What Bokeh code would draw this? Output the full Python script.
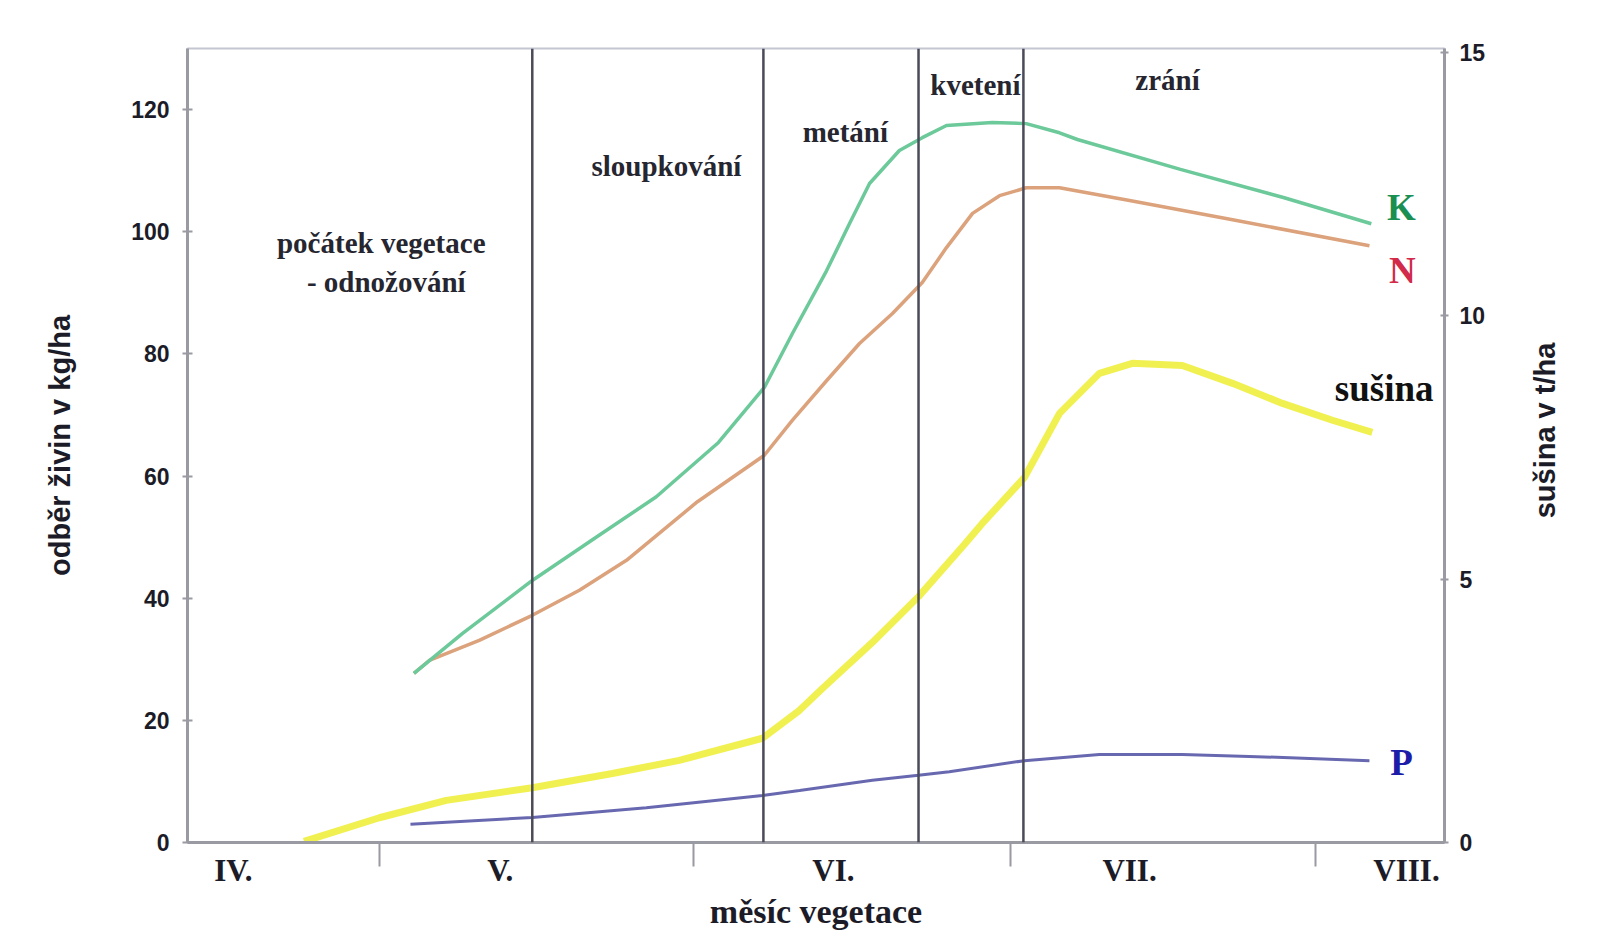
import math
from bokeh.plotting import figure
from bokeh.layouts import row
from bokeh.models import (Range1d, LinearAxis, FixedTicker, ColumnDataSource, Span)
from bokeh.core.properties import value
from bokeh.embed import file_html
from bokeh.resources import INLINE

# ---------------- data ----------------
# x in "month" units (tick marks at month boundaries)
month_labels = ["IV.", "V.", "VI.", "VII.", "VIII."]
month_label_pos = [0.535, 1.385, 2.446, 3.389, 4.271]
month_bounds = [1.0, 2.0, 3.01, 3.98]

left_ticks = [0, 20, 40, 60, 80, 100, 120]
right_ticks = [0, 5, 10, 15]

phase_lines = [1.487, 2.223, 2.717, 3.051]
phase_text = ["počátek vegetace", "- odnožování", "sloupkování", "metání", "kvetení", "zrání"]
phase_x = [1.006, 1.022, 1.914, 2.484, 2.898, 3.51]
phase_y = [98.1, 91.7, 110.8, 116.4, 124.1, 124.8]

k_x = [1.11, 1.264, 1.487, 1.688, 1.882, 2.08, 2.226, 2.315, 2.424, 2.497, 2.561,
       2.656, 2.729, 2.806, 2.952, 3.06, 3.166, 3.223, 3.551, 3.879, 4.159]
k_y = [27.7, 34.2, 42.9, 49.9, 56.6, 65.5, 74.5, 83.3, 93.6, 101.3, 107.9,
       113.3, 115.4, 117.4, 117.9, 117.7, 116.2, 115.1, 110.2, 105.6, 101.3]

n_x = [1.11, 1.159, 1.318, 1.487, 1.637, 1.787, 2.013, 2.226, 2.315, 2.424, 2.529,
       2.634, 2.729, 2.806, 2.889, 2.975, 3.06, 3.166, 3.389, 3.713, 4.153]
n_y = [27.7, 29.8, 33.1, 37.2, 41.3, 46.2, 55.8, 63.4, 69.1, 75.6, 81.7,
       86.6, 91.7, 97.4, 103.0, 105.9, 107.2, 107.2, 105.1, 102.0, 97.7]

p_x = [1.099, 1.487, 1.85, 2.22, 2.338, 2.57, 2.717, 2.815, 3.054, 3.293, 3.557, 3.77, 4.153]
p_y = [3.0, 4.1, 5.7, 7.7, 8.5, 10.2, 11.0, 11.6, 13.4, 14.4, 14.4, 14.1, 13.4]

# dry matter (sušina), t/ha, right axis
s_x = [0.76, 1.0, 1.213, 1.487, 1.742, 1.955, 2.22, 2.338, 2.41, 2.57, 2.717, 2.863,
       2.92, 3.054, 3.166, 3.293, 3.398, 3.557, 3.717, 3.876, 4.035, 4.162]
s_y = [0.02, 0.47, 0.80, 1.04, 1.31, 1.56, 1.98, 2.51, 2.92, 3.80, 4.67, 5.66,
       6.06, 6.93, 8.15, 8.91, 9.10, 9.06, 8.72, 8.34, 8.02, 7.79]

curve_labels = ["K", "N", "sušina", "P"]
curve_label_x = [4.255, 4.258, 4.2, 4.255]
curve_label_y = [104.0, 93.6, 74.3, 13.1]
curve_label_colors = ["#1a8f52", "#d12a4a", "#111111", "#1c1ca8"]

left_title = "odběr živin v kg/ha"
right_title = "sušina v t/ha"
x_title = "měsíc vegetace"

# ---------------- main figure ----------------
p = figure(frame_width=1257, frame_height=794, output_backend="svg",
           toolbar_location=None,
           x_range=Range1d(0.389, 4.392), y_range=Range1d(0, 130),
           min_border_left=187, min_border_right=60, min_border_top=48,
           min_border_bottom=70)
p.background_fill_color = "white"
p.border_fill_color = "white"
p.outline_line_color = "#c4c6d2"
p.outline_line_width = 2
p.xgrid.visible = False
p.ygrid.visible = False

sans = "'Liberation Sans', Arial, sans-serif"
serif = "'Liberation Serif', 'Times New Roman', serif"
axis_col = "#9a9aa2"
text_col = "#1c1c28"

# x axis
xa = p.xaxis[0]
xa.ticker = FixedTicker(ticks=month_label_pos, minor_ticks=month_bounds)
xa.major_label_overrides = {pos: lab for pos, lab in zip(month_label_pos, month_labels)}
xa.major_tick_line_color = None
xa.major_tick_out = 0
xa.major_tick_in = 0
xa.minor_tick_out = 24
xa.minor_tick_in = 0
xa.minor_tick_line_color = axis_col
xa.minor_tick_line_width = 2
xa.axis_line_color = axis_col
xa.axis_line_width = 3
xa.major_label_standoff = -14
xa.major_label_text_font = serif
xa.major_label_text_font_style = "bold"
xa.major_label_text_font_size = "31px"
xa.major_label_text_color = text_col
xa.axis_label = x_title
xa.axis_label_text_font = serif
xa.axis_label_text_font_style = "bold"
xa.axis_label_text_font_size = "34px"
xa.axis_label_text_color = text_col
xa.axis_label_standoff = 2

# left axis
ya = p.yaxis[0]
ya.ticker = FixedTicker(ticks=left_ticks)
ya.minor_tick_line_color = None
ya.major_tick_in = 5
ya.major_tick_out = 5
ya.major_tick_line_color = axis_col
ya.major_tick_line_width = 2
ya.axis_line_color = axis_col
ya.axis_line_width = 3
ya.major_label_standoff = 13
ya.major_label_text_font = sans
ya.major_label_text_font_style = "bold"
ya.major_label_text_font_size = "23px"
ya.major_label_text_color = text_col
ya.axis_label = left_title
ya.axis_label_text_font = sans
ya.axis_label_text_font_style = "bold"
ya.axis_label_text_font_size = "29px"
ya.axis_label_text_color = text_col
ya.axis_label_standoff = 52

# right axis (ticks and numbers)
p.extra_y_ranges = {"dm": Range1d(0, 15.08)}
ra = LinearAxis(y_range_name="dm", ticker=FixedTicker(ticks=right_ticks))
ra.minor_tick_line_color = None
ra.major_tick_in = 4
ra.major_tick_out = 4
ra.major_tick_line_color = axis_col
ra.major_tick_line_width = 2
ra.axis_line_color = axis_col
ra.axis_line_width = 3
ra.major_label_standoff = 11
ra.major_label_text_font = sans
ra.major_label_text_font_style = "bold"
ra.major_label_text_font_size = "23px"
ra.major_label_text_color = text_col
p.add_layout(ra, "right")

# phase separator lines
for xv in phase_lines:
    p.add_layout(Span(location=xv, dimension="height", line_color="#4a4a58",
                      line_width=2.5))

# curves
p.line(s_x, s_y, y_range_name="dm", line_color="#efef48", line_width=7, line_alpha=0.95)
p.line(p_x, p_y, line_color="#6868b0", line_width=3)
p.line(n_x, n_y, line_color="#dba27c", line_width=3.5)
p.line(k_x, k_y, line_color="#6cc99a", line_width=3.5)

# phase texts
ph_src = ColumnDataSource(dict(x=phase_x, y=phase_y, t=phase_text))
p.text(x="x", y="y", text="t", source=ph_src, text_font=value(serif),
       text_font_style="bold", text_font_size="29px", text_align="center",
       text_baseline="middle", text_color="#262630")

# curve labels
cl_src = ColumnDataSource(dict(x=curve_label_x, y=curve_label_y, t=curve_labels,
                               c=curve_label_colors))
p.text(x="x", y="y", text="t", source=cl_src, text_font=value(serif),
       text_font_style="bold", text_font_size="37px", text_align="center",
       text_baseline="middle", text_color="c")

# ---------------- right-side title strip (title reads bottom-to-top) ----------------
strip_h = 930
t = figure(frame_width=100, frame_height=strip_h, output_backend="svg",
           toolbar_location=None, x_axis_type=None, y_axis_type=None,
           x_range=Range1d(0, 100), y_range=Range1d(0, strip_h),
           min_border_left=0, min_border_right=0, min_border_top=0, min_border_bottom=0)
t.outline_line_color = None
t.background_fill_color = "white"
t.border_fill_color = "white"
t.xgrid.visible = False
t.ygrid.visible = False
t.text(x=[40], y=[strip_h - 382], text=[right_title], angle=math.pi / 2,
       text_font=value(sans), text_font_style="bold", text_font_size="29px",
       text_color=text_col, text_align="center", text_baseline="middle")

layout = row(p, t, spacing=0)
open("out.html", "w").write(file_html(layout, INLINE))
